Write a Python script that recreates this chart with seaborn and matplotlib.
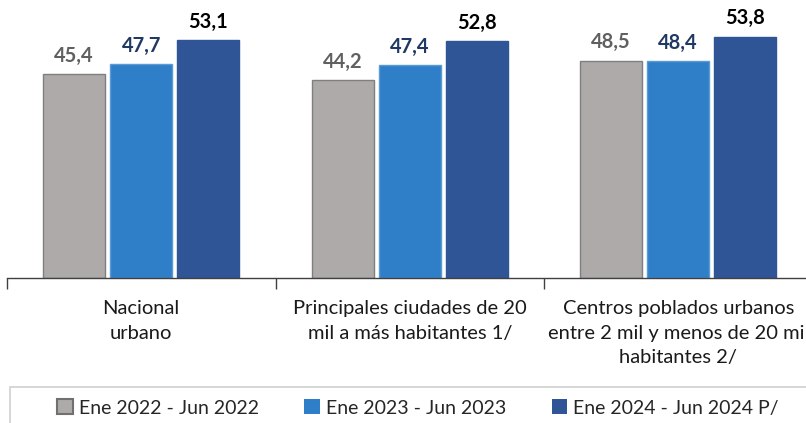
import matplotlib
matplotlib.use("Agg")
import matplotlib.pyplot as plt
import matplotlib.patches as mpatches
import seaborn as sns
import pandas as pd

categories = [
    "Nacional\nurbano",
    "Principales ciudades de 20\nmil a más habitantes 1/",
    "Centros poblados urbanos\nentre 2 mil y menos de 20 mil\nhabitantes 2/",
]
periods = ["Ene 2022 - Jun 2022", "Ene 2023 - Jun 2023", "Ene 2024 - Jun 2024 P/"]
values_2022 = [45.4, 44.2, 48.5]
values_2023 = [47.7, 47.4, 48.4]
values_2024 = [53.1, 52.8, 53.8]

bar_colors = ["#AEAAAA", "#2F7FC8", "#2F5597"]
edge_colors = ["#7F7F7F", "#5B9BD5", "#2F5597"]
label_colors = ["#606060", "#1F3864", "#000000"]

rows = []
for period, vals in zip(periods, [values_2022, values_2023, values_2024]):
    for cat, v in zip(categories, vals):
        rows.append({"categoria": cat, "periodo": period, "valor": v})
df = pd.DataFrame(rows)

sns.set_theme(style="white")
plt.rcParams["font.family"] = ["Lato", "DejaVu Sans"]

W, H = 806, 423
fig = plt.figure(figsize=(W / 100, H / 100), dpi=100)
ax = fig.add_axes([7 / W, 1 - 278 / H, 805.5 / W, 278 / H])

sns.barplot(
    data=df, x="categoria", y="valor", hue="periodo",
    order=categories, hue_order=periods, palette=bar_colors,
    width=0.75, gap=0.075, ax=ax, legend=False, saturation=1,
)

for i, container in enumerate(ax.containers):
    for bar in container:
        bar.set_edgecolor(edge_colors[i])
        bar.set_linewidth(1.0)
    ax.bar_label(
        container, labels=[f"{v:.1f}".replace(".", ",") for v in container.datavalues],
        padding=6, color=label_colors[i], fontsize=14.5, fontweight="bold",
    )

ax.set_xlim(-0.5, 2.5)
ax.set_ylim(0, 62)
ax.set_xlabel("")
ax.set_ylabel("")
ax.set_yticks([])
for side in ["top", "right", "left"]:
    ax.spines[side].set_visible(False)
ax.spines["bottom"].set_color("#404040")
ax.spines["bottom"].set_linewidth(1.0)

ax.set_xticks(range(len(categories)))
ax.set_xticklabels(categories, fontsize=14.5, color="#1A1A1A", linespacing=1.52)
ax.set_xticks([-0.5, 0.5, 1.5, 2.5], minor=True)
ax.tick_params(axis="x", which="major", length=0, pad=16)
ax.tick_params(axis="x", which="minor", length=8, width=1, color="#404040", direction="out", bottom=True)

# legend box along the bottom
frame = mpatches.Rectangle((10 / W, -0.05), 1.0, (H - 387) / H + 0.05,
                           transform=fig.transFigure, fill=False,
                           edgecolor="#D0D0D0", linewidth=1.2)
fig.add_artist(frame)

handles = [mpatches.Patch(facecolor=c, edgecolor=e, linewidth=1.5 if i == 0 else 0, label=p)
           for i, (c, e, p) in enumerate(zip(bar_colors, ["#707070", "none", "none"], periods))]
fig.legend(handles=handles, loc="center", bbox_to_anchor=(418 / W, 1 - 408 / H),
           ncol=3, frameon=False, fontsize=14, handlelength=0.8, handleheight=0.8,
           handletextpad=0.3, columnspacing=2.35)

fig.savefig("out.png", dpi=100)
